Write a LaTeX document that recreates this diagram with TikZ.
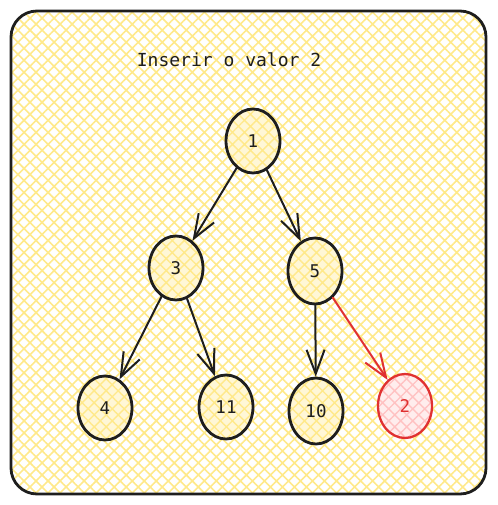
\documentclass[tikz,border=0pt]{standalone}
\usepackage{fontspec}
\setmonofont{DejaVu Sans Mono}
\usetikzlibrary{patterns.meta,arrows.meta,shapes.geometric}
\definecolor{ink}{HTML}{1E1E1E}
\definecolor{hatchY}{HTML}{FFE98A}
\definecolor{redS}{HTML}{E03131}
\definecolor{redF}{HTML}{FFC2C2}
\tikzset{
  bgbox/.style={draw=ink, line width=2.8pt, rounded corners=26pt,
    pattern={Hatch[angle=45,distance=8.5pt,line width=1.6pt]}, pattern color=hatchY},
  tnode/.style={ellipse, draw=ink, line width=2.8pt, minimum width=54pt, minimum height=64pt,
    inner sep=0pt, text=ink, font=\ttfamily\fontsize{17.5}{17.5}\selectfont,
    preaction={fill=hatchY!35},
    pattern={Hatch[angle=45,distance=8.5pt,line width=1.4pt,xshift=4pt]}, pattern color=hatchY},
  newnode/.style={tnode, draw=redS, text=redS, line width=2.3pt,
    preaction={fill=redF!30},
    pattern={Hatch[angle=45,distance=8.5pt,line width=1.4pt,xshift=4pt]}, pattern color=redF},
  arr/.style={draw=ink, line width=2pt, line cap=round,
    -{Straight Barb[length=24pt,width=18pt,line width=2pt]}},
  newarr/.style={arr, draw=redS},
  title/.style={text=ink, font=\ttfamily\fontsize{18}{18}\selectfont, inner sep=0pt}
}
\begin{document}
\begin{tikzpicture}[x=1pt,y=-1pt]
\useasboundingbox (0,0) rectangle (497,505);
\path[bgbox] (11,11) rectangle (486,494);
\node[title] (t) at (229,60) {Inserir o valor 2};
\node[tnode] (n1) at (253,141) {1};
\node[tnode] (n3) at (176,268) {3};
\node[tnode, minimum height=66pt] (n5) at (315,271) {5};
\node[tnode] (n4) at (105,408) {4};
\node[tnode] (n11) at (226,407) {11};
\node[tnode, minimum height=66pt] (n10) at (316,411) {10};
\node[newnode] (n2) at (405,406) {2};
\draw[arr] (n1) -- (n3);
\draw[arr] (n1) -- (n5);
\draw[arr] (n3) -- (n4);
\draw[arr] (n3) -- (n11);
\draw[arr] (n5) -- (n10);
\draw[newarr] (n5) -- (n2);
\end{tikzpicture}
\end{document}
